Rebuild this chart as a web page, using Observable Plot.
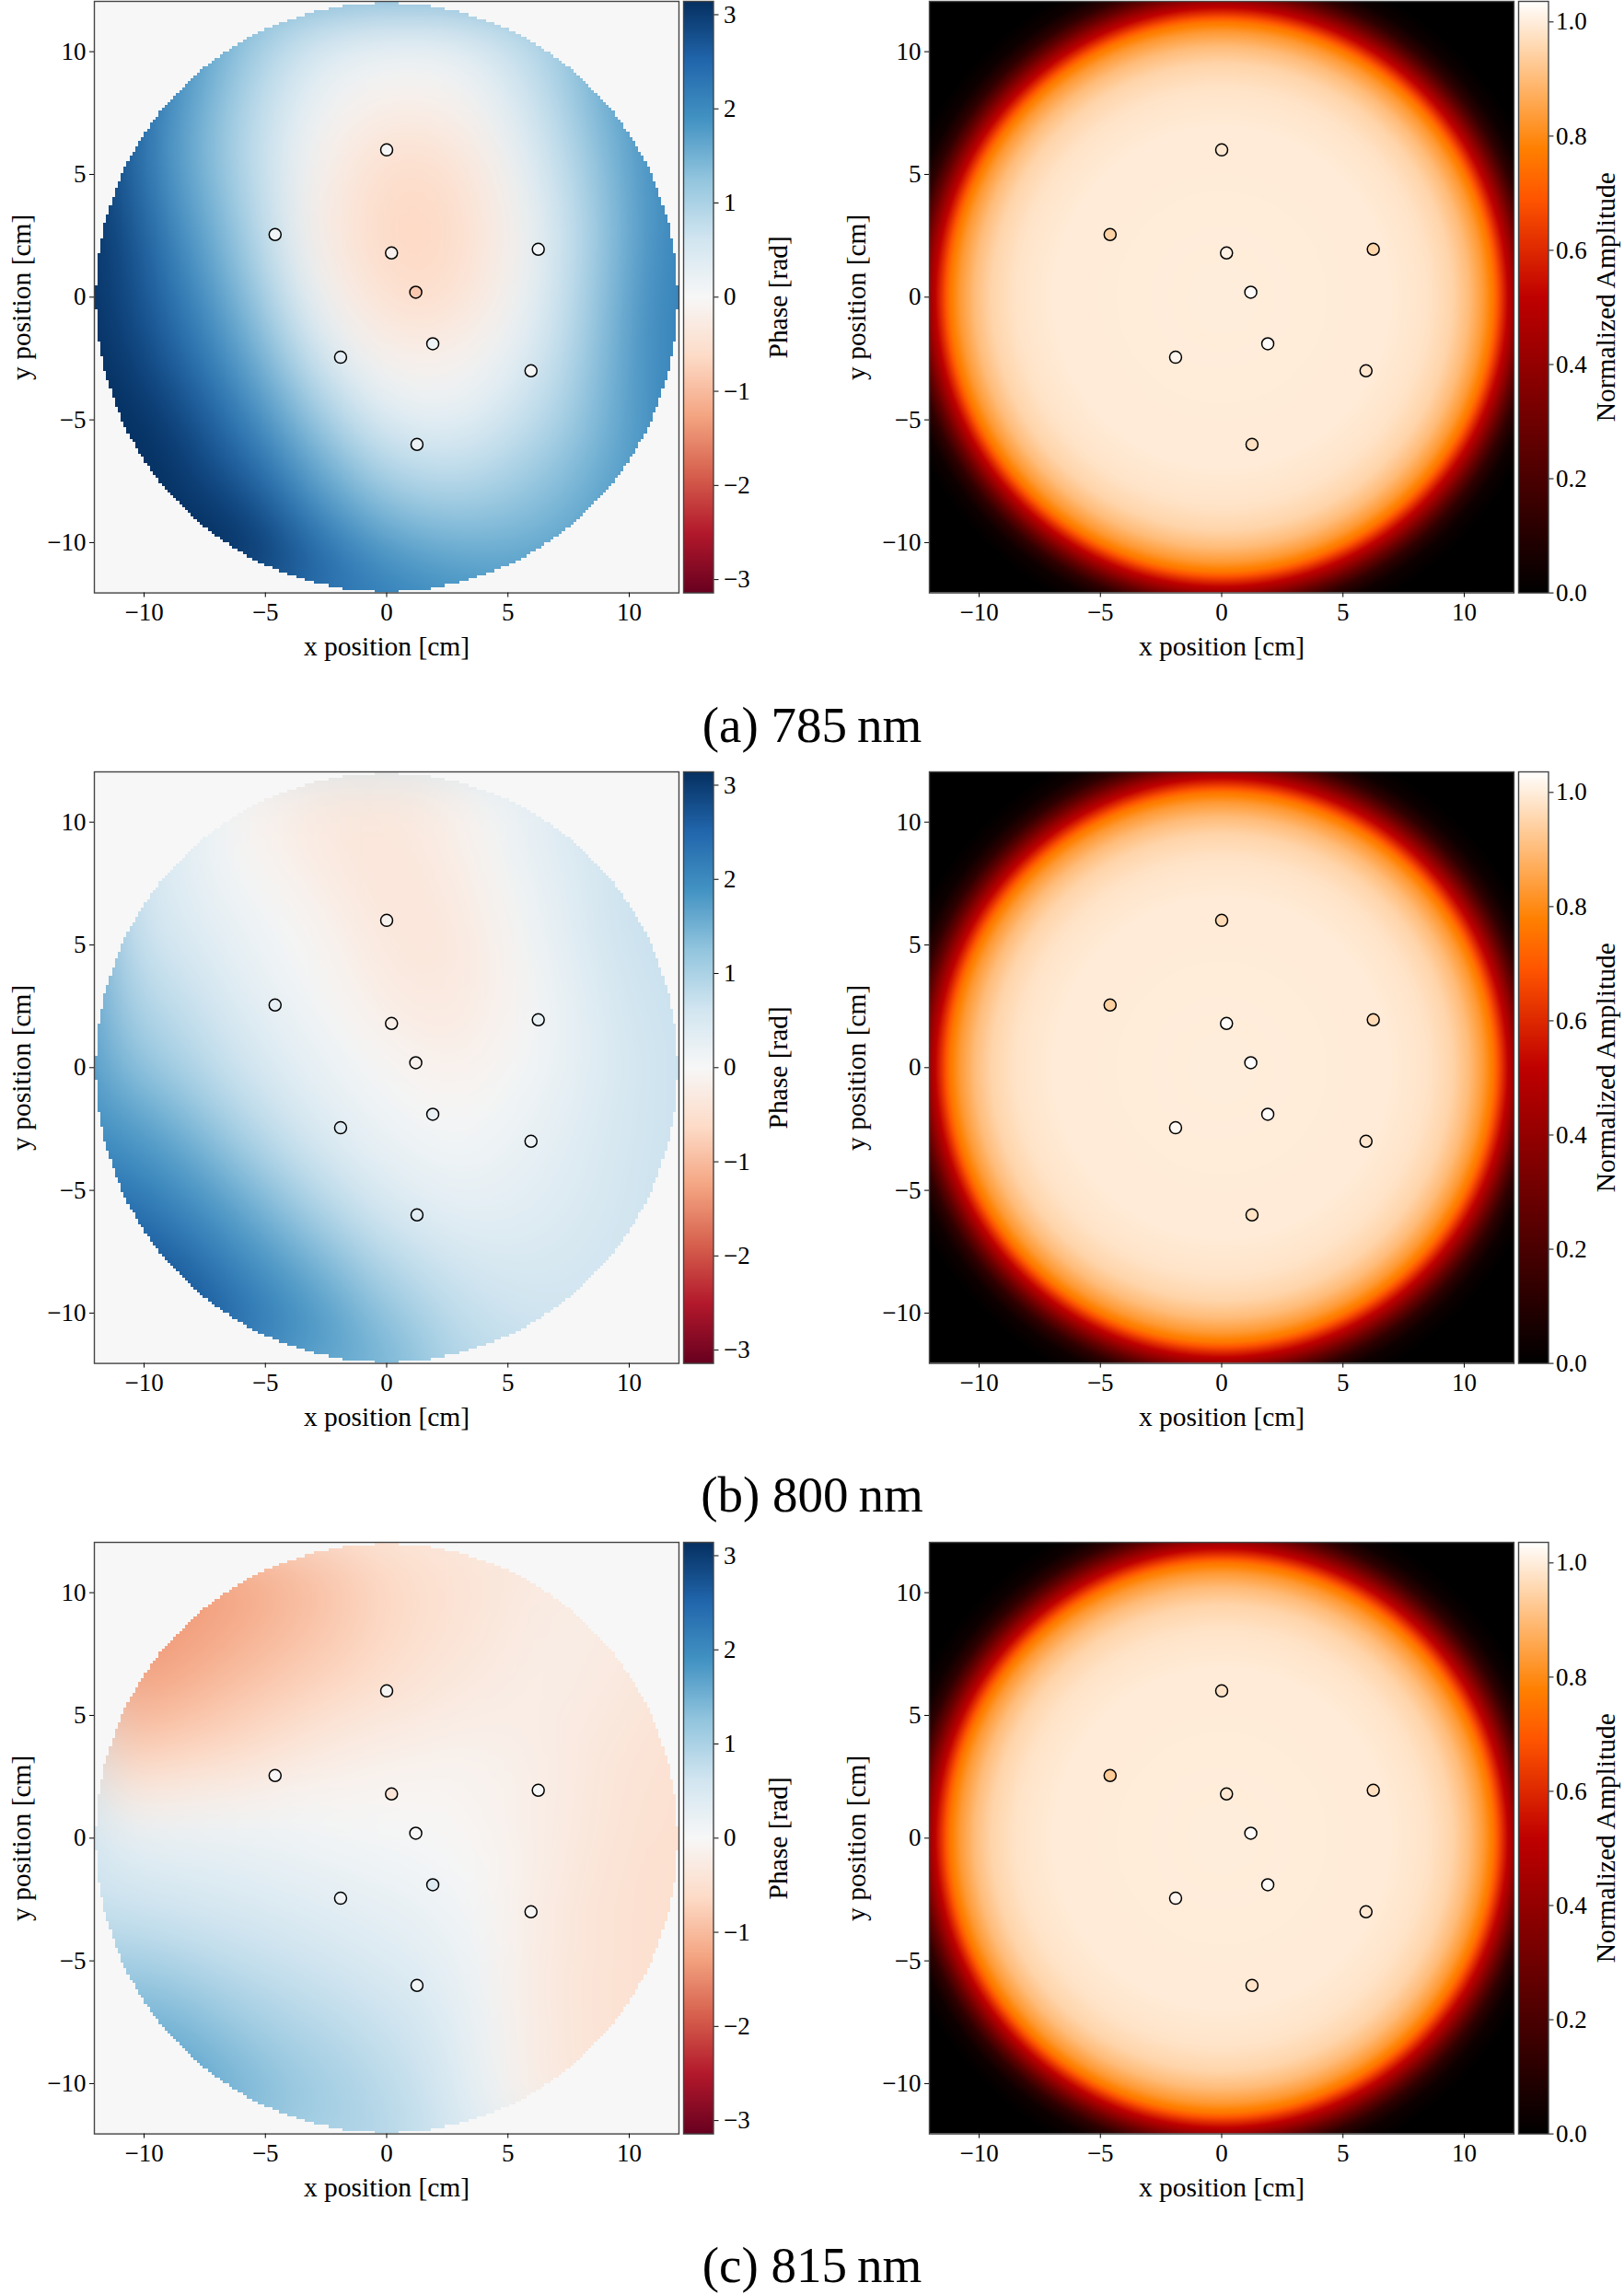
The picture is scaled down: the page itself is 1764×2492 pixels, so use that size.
<!DOCTYPE html>
<html>
<head>
<meta charset="utf-8">
<script src="https://cdn.jsdelivr.net/npm/d3@7"></script>
<script src="https://cdn.jsdelivr.net/npm/@observablehq/plot@0.6"></script>
<style>
  html, body { margin: 0; padding: 0; background: #fff; }
  #figure { position: relative; width: 1764px; height: 2492px; background: #fff; overflow: hidden;
            font-family: "Liberation Serif", "DejaVu Serif", serif; }
  .cell { position: absolute; }
  .caption { position: absolute; left: 0; width: 1764px; text-align: center; color: #000;
             font-size: 55px; line-height: 55px; white-space: pre; }
</style>
</head>
<body>
<div id="figure"></div>
<script>
// ---- sample grid for the phase maps (cm); rows run from y = 12 down to y = -12 ----
const gridX = [-12, -9, -6, -3, 0, 3, 6, 9, 12];
const gridY = [12, 9, 6, 3, 0, -3, -6, -9, -12];

// phase [rad] at the grid nodes, 785 nm
const phase785 = [
  [2.4, 1.9, 1.4, 0.85, 0.6, 0.65, 1.1, 1.6, 2.1],
  [2.8, 2.1, 1.05, 0.3, 0.0, 0.05, 0.7, 1.6, 2.2],
  [3.0, 1.85, 0.9, -0.05, -0.55, -0.45, 0.4, 1.35, 2.2],
  [3.2, 2.1, 1.1, -0.2, -0.7, -0.65, 0.15, 1.2, 2.3],
  [3.14, 2.4, 1.4, 0.1, -0.6, -0.55, 0.2, 1.3, 2.4],
  [3.3, 2.7, 1.85, 0.7, -0.1, -0.1, 0.5, 1.4, 2.3],
  [3.4, 3.14, 2.4, 1.4, 0.6, 0.45, 0.9, 1.5, 2.1],
  [3.5, 3.3, 3.05, 2.1, 1.4, 1.2, 1.35, 1.7, 2.1],
  [3.5, 3.4, 3.3, 2.8, 2.2, 1.9, 1.8, 1.9, 2.1]
];
// phase [rad] at the grid nodes, 800 nm
const phase800 = [
  [0.9, 0.6, -0.05, -0.3, -0.35, -0.15, 0.3, 0.6, 0.9],
  [0.8, 0.45, -0.05, -0.3, -0.4, -0.2, 0.3, 0.6, 0.85],
  [0.8, 0.5, 0.2, -0.08, -0.4, -0.35, 0.15, 0.6, 0.8],
  [1.1, 0.8, 0.35, 0.05, -0.3, -0.35, 0.05, 0.5, 0.75],
  [1.5, 1.1, 0.6, 0.25, -0.02, -0.2, 0.1, 0.45, 0.7],
  [2.0, 1.7, 1.05, 0.5, 0.2, 0.05, 0.25, 0.5, 0.7],
  [2.6, 2.2, 1.7, 1.05, 0.5, 0.28, 0.35, 0.55, 0.7],
  [3.0, 2.8, 2.2, 1.7, 1.05, 0.65, 0.55, 0.6, 0.7],
  [3.1, 3.0, 2.6, 2.0, 1.5, 0.9, 0.7, 0.7, 0.7]
];
// phase [rad] at the grid nodes, 815 nm
const phase815 = [
  [-1.45, -1.35, -1.25, -0.95, -0.6, -0.45, -0.35, -0.3, -0.3],
  [-1.45, -1.4, -1.2, -0.95, -0.65, -0.45, -0.25, -0.25, -0.3],
  [-1.35, -1.15, -0.9, -0.7, -0.48, -0.3, -0.2, -0.3, -0.4],
  [-0.75, -0.6, -0.48, -0.22, -0.12, -0.08, -0.18, -0.38, -0.5],
  [0.38, 0.3, 0.22, 0.12, 0.05, -0.02, -0.2, -0.4, -0.55],
  [0.7, 0.6, 0.52, 0.4, 0.28, 0.12, -0.25, -0.45, -0.55],
  [1.3, 1.2, 0.9, 0.72, 0.52, 0.28, -0.3, -0.45, -0.55],
  [1.8, 1.7, 1.35, 1.05, 0.8, 0.4, -0.28, -0.45, -0.5],
  [1.9, 1.8, 1.6, 1.2, 0.95, 0.5, -0.25, -0.4, -0.45]
];

// radial amplitude profile of the beam (radius in cm, normalized amplitude)
const ampRadius  = [0, 7, 8.5, 9.5, 10.2, 10.8, 11.2, 11.6, 12.0, 12.4, 12.8, 13.3, 14, 18];
const ampProfile = [1.0, 0.995, 0.98, 0.95, 0.9, 0.83, 0.76, 0.6, 0.44, 0.27, 0.13, 0.04, 0, 0];

// detector positions (cm) and the values measured there
const sensorX = [0, -4.6, 0.2, 6.25, 1.2, 1.9, -1.9, 5.95, 1.25];
const sensorY = [6.0, 2.55, 1.8, 1.95, 0.2, -1.9, -2.45, -3.0, -6.0];
const sensorPhase785 = [0.02, 0.1, -0.15, 0.1, -0.85, 0.15, 0.3, 0.05, 0.18];
const sensorPhase800 = [-0.12, 0.28, -0.2, 0.25, -0.15, 0.25, 0.38, 0.15, 0.35];
const sensorPhase815 = [-0.05, 0.0, -0.4, 0.0, 0.0, 0.45, 0.1, -0.03, 0.08];
const sensorAmp785 = [0.99, 0.945, 1.01, 0.95, 1.03, 1.03, 1.02, 0.985, 0.973];
const sensorAmp800 = [0.96, 0.94, 1.03, 0.96, 1.035, 1.035, 1.025, 0.985, 0.975];
const sensorAmp815 = [0.98, 0.93, 0.99, 0.97, 1.03, 1.03, 1.02, 0.99, 0.98];

const apertureRadius = 12;
const captions = ["(a) 785\u2009nm", "(b) 800\u2009nm", "(c) 815\u2009nm"];
const axisTicks = [-10, -5, 0, 5, 10];
const phaseTicks = [-3, -2, -1, 0, 1, 2, 3];
const ampTicks = [0, 0.2, 0.4, 0.6, 0.8, 1.0];

// ---- styling ----
const serif = '"Liberation Serif", "DejaVu Serif", serif';
const tickSize = 27, labelSize = 29.5;
const extent = 12.05;              // half-width of the plotted window (cm)
const pad = 15;                    // phase raster is computed past the frame so its smoothing has no edge
const frameW = 635, frameH = 642.6;
const rowStep = 836.6, rowTop = 1.4;
const minus = (d) => String(d).replace("-", "\u2212");
const fmt1 = d3.format(".1f");

// diverging red-blue map with linear segments between the ColorBrewer stops
const rdbu = d3.piecewise(d3.interpolateRgb, [
  "#67001f", "#b2182b", "#d6604d", "#f4a582", "#fddbc7", "#f7f7f7",
  "#d1e5f0", "#92c5de", "#4393c3", "#2166ac", "#053061"
]);
// black-red-orange-white "gist_heat" map
const gistHeat = (t) => {
  t = Math.max(0, Math.min(1, t));
  const r = Math.round(255 * Math.min(1, 1.5 * t));
  const g = Math.round(255 * Math.max(0, 2 * t - 1));
  const b = Math.round(255 * Math.max(0, 4 * t - 3));
  return `rgb(${r},${g},${b})`;
};
const phaseColor = {type: "linear", domain: [-Math.PI, Math.PI], interpolate: rdbu, clamp: true};
const ampColor = {type: "linear", domain: [0, 1.036], interpolate: gistHeat, clamp: true};

// ---- tables built from the arrays above ----
const gridTable = (values) => gridY.flatMap((y, i) => gridX.map((x, j) => ({x, y, v: values[i][j]})));
const ampTable = ampRadius.flatMap((r, k) =>
  d3.range(0, 360, 2).map((a) => ({
    x: r * Math.cos(a * Math.PI / 180),
    y: r * Math.sin(a * Math.PI / 180),
    v: ampProfile[k]
  })));
const sensors = sensorX.map((x, i) => ({x, y: sensorY[i]}));

const svgStyle = {fontFamily: serif, fontSize: tickSize + "px", color: "#000", background: "transparent", maxWidth: "none"};
const labelText = {text: (d) => d, fontSize: labelSize, fontFamily: serif, textAnchor: "middle", lineAnchor: "middle"};

function fieldPlot({marginLeft, field, masked, color, sensorValues, blur, reach}) {
  return Plot.plot({
    width: marginLeft + frameW + 6,
    height: 6 + frameH + 82,
    marginLeft, marginRight: 6, marginTop: 6, marginBottom: 82,
    style: svgStyle,
    x: {domain: [-extent, extent]},
    y: {domain: [-extent, extent]},
    color,
    marks: [
      Plot.raster(field, {x: "x", y: "y", fill: "v", interpolate: "barycentric", blur, clip: true,
                          x1: -reach, x2: reach, y1: -reach, y2: reach}),
      masked ? Plot.raster({
        fill: (x, y) => (x * x + y * y > apertureRadius * apertureRadius ? 0 : NaN),
        x1: -extent, x2: extent, y1: -extent, y2: extent,
        width: 200, height: 200, imageRendering: "pixelated"
      }) : null,
      Plot.dot(sensors, {x: "x", y: "y", r: 6.5, fill: sensorValues, stroke: "#000", strokeWidth: 1.5}),
      Plot.frame({stroke: "#444", strokeWidth: 1.4}),
      Plot.axisX(axisTicks, {tickSize: 5, tickPadding: 6, tickFormat: minus, fontSize: tickSize, fontFamily: serif, label: null}),
      Plot.axisY(axisTicks, {tickSize: 5, tickPadding: 4, tickFormat: minus, fontSize: tickSize, fontFamily: serif, label: null}),
      Plot.text(["x position [cm]"], {...labelText, frameAnchor: "bottom", dy: 58}),
      Plot.text(["y position [cm]"], {...labelText, frameAnchor: "left", dx: -79, rotate: -90})
    ]
  });
}

function colorbarPlot({color, lo, hi, ticks, format, label, pad, labelDx, marginRight}) {
  return Plot.plot({
    width: 2 + 32.5 + marginRight,
    height: 6 + frameH + 82,
    marginLeft: 2, marginRight, marginTop: 6, marginBottom: 82,
    style: svgStyle,
    x: {domain: [0, 1], axis: null},
    y: {domain: [lo, hi]},
    color,
    marks: [
      Plot.raster({fill: (x, y) => y, x1: 0, x2: 1, y1: lo, y2: hi, width: 1, height: 643}),
      Plot.frame({stroke: "#444", strokeWidth: 1.4}),
      Plot.axisY(ticks, {anchor: "right", tickSize: 5, tickPadding: pad, tickFormat: format, fontSize: tickSize, fontFamily: serif, label: null}),
      Plot.text([label], {...labelText, frameAnchor: "right", dx: labelDx, rotate: -90})
    ]
  });
}

const figure = document.getElementById("figure");
function place(node, left, top) {
  const div = document.createElement("div");
  div.className = "cell";
  div.style.left = left + "px";
  div.style.top = top + "px";
  div.appendChild(node);
  figure.appendChild(div);
}

const rows = [
  {phase: phase785, sPhase: sensorPhase785, sAmp: sensorAmp785},
  {phase: phase800, sPhase: sensorPhase800, sAmp: sensorAmp800},
  {phase: phase815, sPhase: sensorPhase815, sAmp: sensorAmp815}
];

rows.forEach((row, k) => {
  const T = rowTop + rowStep * k;
  place(fieldPlot({marginLeft: 102, field: gridTable(row.phase), masked: true, color: phaseColor,
                   sensorValues: row.sPhase, blur: 30, reach: pad}), 0, T - 6);
  place(colorbarPlot({color: phaseColor, lo: -Math.PI, hi: Math.PI, ticks: phaseTicks, format: minus,
                      label: "Phase [rad]", pad: 6, labelDx: 71, marginRight: 120}), 739.5, T - 6);
  place(fieldPlot({marginLeft: 109, field: ampTable, masked: false, color: ampColor,
                   sensorValues: row.sAmp, blur: 0, reach: extent}), 900, T - 6);
  place(colorbarPlot({color: ampColor, lo: 0, hi: 1.036, ticks: ampTicks, format: fmt1,
                      label: "Normalized Amplitude", pad: 3, labelDx: 62.5, marginRight: 82}), 1647, T - 6);
  const cap = document.createElement("div");
  cap.className = "caption";
  cap.style.top = (T + 785.6 - 27.5) + "px";
  cap.textContent = captions[k];
  figure.appendChild(cap);
});
</script>
</body>
</html>
